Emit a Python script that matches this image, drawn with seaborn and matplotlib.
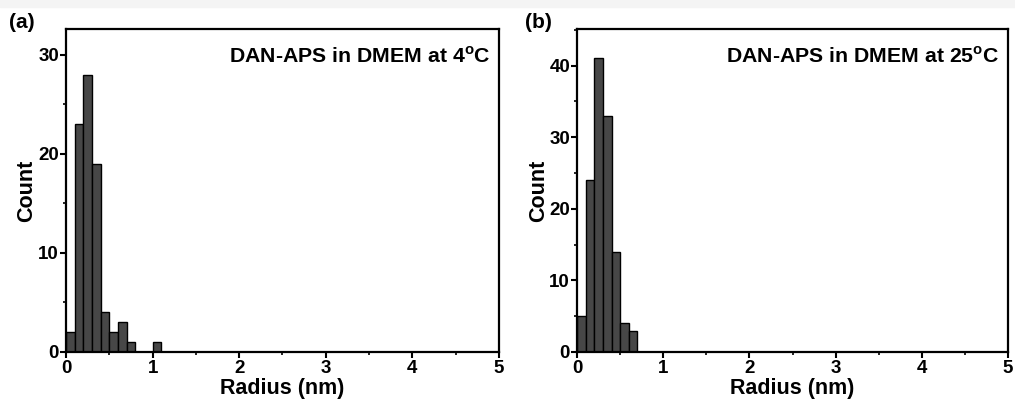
import numpy as np
import matplotlib
matplotlib.use('Agg')
import matplotlib.pyplot as plt
import seaborn as sns
from matplotlib.ticker import MultipleLocator

sns.set_style('ticks')
plt.rcParams['font.family'] = ['Liberation Sans', 'DejaVu Sans']
plt.rcParams['font.weight'] = 'bold'
plt.rcParams['text.color'] = 'black'
plt.rcParams['axes.labelcolor'] = 'black'
plt.rcParams['xtick.color'] = 'black'
plt.rcParams['ytick.color'] = 'black'
plt.rcParams['axes.edgecolor'] = 'black'
plt.rcParams['mathtext.fontset'] = 'custom'
plt.rcParams['mathtext.rm'] = 'Liberation Sans:bold'
plt.rcParams['mathtext.bf'] = 'Liberation Sans:bold'

# histogram bins (nm) and counts
bin_edges = [0.0, 0.1, 0.2, 0.3, 0.4, 0.5, 0.6, 0.7, 0.8, 0.9, 1.0, 1.1]
counts_4C = [2, 23, 28, 19, 4, 2, 3, 1, 0, 0, 1]
counts_25C = [5, 24, 41, 33, 14, 4, 3, 0, 0, 0, 0]
titles = [r'DAN-APS in DMEM at 4$^{\mathbf{o}}$C', r'DAN-APS in DMEM at 25$^{\mathbf{o}}$C']
panel_labels = ['(a)', '(b)']
y_max = [32.6, 45.1]

centers = [(a + b) / 2 for a, b in zip(bin_edges[:-1], bin_edges[1:])]

fig = plt.figure(figsize=(10.15, 4), dpi=100)
fig.patches.append(plt.Rectangle((0, 0.982), 1, 0.018, transform=fig.transFigure,
                                 color='#f4f4f4', zorder=0))
axes = [fig.add_axes([0.065, 0.12, 0.4266, 0.8075]),
        fig.add_axes([0.5685, 0.12, 0.4246, 0.8075])]

for ax, counts, title, lab, ym in zip(axes, [counts_4C, counts_25C], titles, panel_labels, y_max):
    sns.histplot(x=centers, weights=counts, bins=bin_edges, ax=ax,
                 color='#474747', alpha=1, edgecolor='black', linewidth=1.0)
    ax.set_xlim(0, 5)
    ax.set_ylim(0, ym)
    ax.xaxis.set_major_locator(MultipleLocator(1))
    ax.xaxis.set_minor_locator(MultipleLocator(0.5))
    ax.yaxis.set_major_locator(MultipleLocator(10))
    ax.yaxis.set_minor_locator(MultipleLocator(5))
    ax.tick_params(which='major', direction='out', length=4, width=1.5, labelsize=13.5, pad=1)
    ax.tick_params(axis='x', which='major', pad=2)
    ax.tick_params(which='minor', direction='out', length=2, width=1.2)
    for s in ax.spines.values():
        s.set_linewidth(1.6)
    ax.set_xlabel('Radius (nm)', fontsize=15.5, fontweight='bold', labelpad=0.5)
    ax.set_ylabel('Count', fontsize=15.5, fontweight='bold', labelpad=0.5)
    ax.text(0.98, 0.915, title, transform=ax.transAxes, ha='right', va='center',
            fontsize=15.3, fontweight='bold')
    for t in ax.get_xticklabels() + ax.get_yticklabels():
        t.set_fontweight('bold')

fig.text(0.009, 0.945, '(a)', fontsize=15, fontweight='bold', va='center')
fig.text(0.517, 0.945, '(b)', fontsize=15, fontweight='bold', va='center')

fig.savefig('out.png', dpi=100)
